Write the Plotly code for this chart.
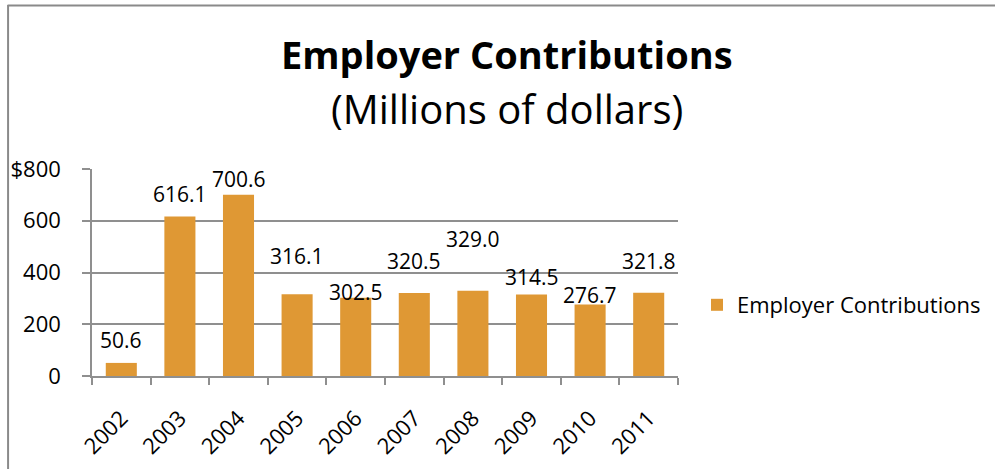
import plotly.graph_objects as go

# Employer contributions by year, millions of dollars
years = ["2002", "2003", "2004", "2005", "2006", "2007", "2008", "2009", "2010", "2011"]
contributions = [50.6, 616.1, 700.6, 316.1, 302.5, 320.5, 329.0, 314.5, 276.7, 321.8]
value_labels = ["50.6", "616.1", "700.6", "316.1", "302.5", "320.5", "329.0", "314.5", "276.7", "321.8"]

y_tick_vals = [0, 200, 400, 600, 800]
y_tick_text = ["0", "200", "400", "600", "$800"]

# pixel lift of each value label above its bar top
label_lift = [23, 23, 16, 38, 6, 32, 52, 18, 9, 32]

W, H = 995, 469
ML, MR, MT, MB = 91.5, 317, 169, 93
PW, PH = W - ML - MR, H - MT - MB

def px_x(px):
    return (px - ML) / PW

def px_y(py):
    return (H - MB - py) / PH

FONT = "Open Sans"
BAR = "#DF9834"
GRID = "#8F8F8F"

fig = go.Figure()
fig.add_trace(go.Bar(
    x=years, y=contributions, name="Employer Contributions",
    marker=dict(color=BAR, line=dict(width=0)),
))

for i, (v, lab, lift) in enumerate(zip(contributions, value_labels, label_lift)):
    fig.add_annotation(x=i, y=v, text=lab, showarrow=False, yanchor="middle",
                       yshift=lift, font=dict(family=FONT, size=21, color="#000000"))

# titles
fig.add_annotation(xref="paper", yref="paper", x=px_x(507), y=px_y(54),
                   text="<b>Employer Contributions</b>", showarrow=False,
                   xanchor="center", yanchor="middle",
                   font=dict(family=FONT, size=38, color="#000000"))
fig.add_annotation(xref="paper", yref="paper", x=px_x(507), y=px_y(108),
                   text="(Millions of dollars)", showarrow=False,
                   xanchor="center", yanchor="middle",
                   font=dict(family=FONT, size=40, color="#000000"))

# chart-area border (top and left edges)
fig.add_shape(type="line", xref="paper", yref="paper",
              x0=px_x(7), x1=px_x(1000), y0=px_y(5.5), y1=px_y(5.5),
              line=dict(color="#8A8A8A", width=2))
fig.add_shape(type="line", xref="paper", yref="paper",
              x0=px_x(7.5), x1=px_x(7.5), y0=px_y(5), y1=px_y(475),
              line=dict(color="#8A8A8A", width=2))

fig.update_layout(
    width=W, height=H,
    margin=dict(l=ML, r=MR, t=MT, b=MB, autoexpand=False),
    paper_bgcolor="white", plot_bgcolor="white",
    bargap=0.47,
    showlegend=True,
    legend=dict(x=px_x(697), y=px_y(305), xanchor="left", yanchor="middle",
                font=dict(family=FONT, size=22, color="#000000"),
                itemwidth=30, bgcolor="rgba(0,0,0,0)"),
    font=dict(family=FONT, color="#000000"),
)

fig.update_xaxes(
    type="category", range=[-0.5, len(years) - 0.5],
    showline=True, linecolor=GRID, linewidth=1.5,
    ticks="outside", tickson="boundaries", ticklen=7, tickcolor=GRID, tickwidth=1.5,
    tickangle=-45, tickfont=dict(family=FONT, size=22, color="#000000"),
    ticklabelstandoff=19, showgrid=False,
)
fig.update_yaxes(
    range=[0, 800], tickvals=y_tick_vals, ticktext=y_tick_text,
    showline=True, linecolor=GRID, linewidth=1.5,
    ticks="outside", ticklen=8, tickcolor=GRID, tickwidth=1.5,
    showgrid=True, gridcolor=GRID, gridwidth=1.5, zeroline=False,
    tickfont=dict(family=FONT, size=22, color="#000000"),
    ticklabelstandoff=17,
)

fig.write_html("out.html")
